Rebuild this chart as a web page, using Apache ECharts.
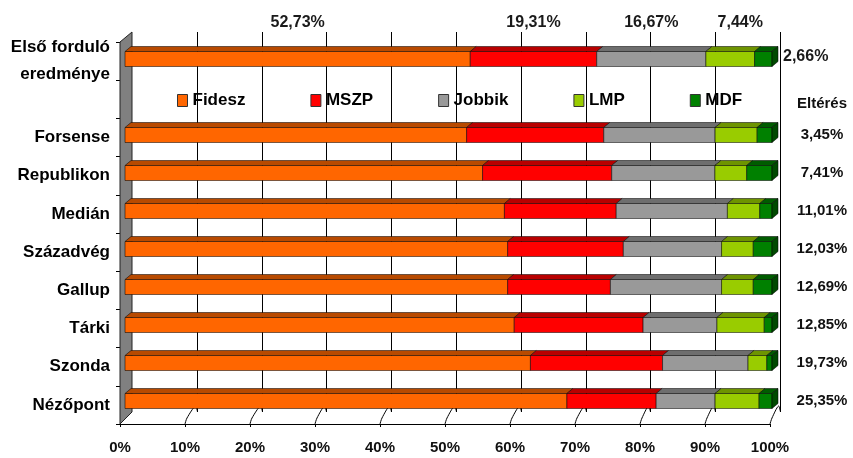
<!DOCTYPE html>
<html>
<head>
<meta charset="utf-8">
<script src="https://cdn.jsdelivr.net/npm/echarts@6/dist/echarts.min.js"></script>
<style>
  html, body { margin: 0; padding: 0; background: #fff; }
  #chart { width: 853px; height: 458px; }
</style>
</head>
<body>
<div id="chart"></div>
<script>
// sorok fentről lefelé (az első a tényleges eredmény)
const rows = ['Első forduló\neredménye', 'Forsense', 'Republikon', 'Medián', 'Századvég', 'Gallup', 'Tárki', 'Szonda', 'Nézőpont']
const parties = ['Fidesz', 'MSZP', 'Jobbik', 'LMP', 'MDF']
const fidesz = [52.73, 52.8, 55.1, 58.7, 59.2, 59.2, 60.1, 62.6, 68.3]
const mszp = [19.31, 21.2, 19.9, 17.3, 17.9, 15.9, 19.9, 20.4, 13.8]
const jobbik = [16.67, 17.2, 15.9, 17.2, 15.2, 17.2, 11.4, 13.2, 9.1]
const lmp = [7.44, 6.5, 4.9, 5.0, 4.9, 4.9, 7.3, 2.9, 6.8]
const mdf = [2.66, 2.3, 3.9, 1.9, 2.9, 2.9, 1.2, 0.8, 2.0]
const elteres = ['', '3,45%', '7,41%', '11,01%', '12,03%', '12,69%', '12,85%', '19,73%', '25,35%']
const xTicks = [0, 10, 20, 30, 40, 50, 60, 70, 80, 90, 100]

const values = [fidesz, mszp, jobbik, lmp, mdf]
const frontColors = ['#FF6600', '#FF0000', '#999999', '#99CC00', '#008000']
const topColors = ['#B84A00', '#B80000', '#6E6E6E', '#6E9400', '#005C00']
const sideColor = '#004A00'
const FONT = "'Liberation Sans', Arial, sans-serif"

// a jelmagyarázat egy üres sort foglal el az első sor alatt
const yCats = [rows[0], ''].concat(rows.slice(1))
const rightCats = ['', 'Eltérés'].concat(elteres.slice(1))
const catOf = i => (i === 0 ? 0 : i + 1)

// 100%-ra normált kezdő/vég értékek
const sums = rows.map((r, i) => values.reduce((a, arr) => a + arr[i], 0))
const starts = rows.map(() => 0)
const seriesData = values.map(arr => arr.map((v, i) => {
  const s = starts[i]
  const e = s + v / sums[i] * 100
  starts[i] = e
  return [s, e, catOf(i), v, i]
}))

const FRONT = { left: 120, top: 42, width: 650, height: 382 }
const BACK = { left: 132, top: 32, width: 648, height: 380 }
const BARS = { left: 125, top: 40, width: 647, height: 380 }

const fmt = v => v.toFixed(2).replace('.', ',') + '%'

function makeRender (k) {
  return function (params, api) {
    const a = api.coord([api.value(0), api.value(2)])
    const b = api.coord([api.value(1), api.value(2)])
    const h = 15, dx = 6, dy = 5
    const y0 = a[1] - h / 2
    const stroke = 'rgba(0,0,0,0.75)'
    const children = [
      { type: 'polygon', shape: { points: [[a[0], y0], [a[0] + dx, y0 - dy], [b[0] + dx, y0 - dy], [b[0], y0]] },
        style: { fill: topColors[k], stroke: stroke, lineWidth: 0.7 } },
      { type: 'rect', shape: { x: a[0], y: y0, width: b[0] - a[0], height: h },
        style: { fill: frontColors[k], stroke: stroke, lineWidth: 0.7 } }
    ]
    if (k === parties.length - 1) {
      children.push({ type: 'polygon', shape: { points: [[b[0], y0], [b[0] + dx, y0 - dy], [b[0] + dx, y0 + h - dy], [b[0], y0 + h]] },
        style: { fill: sideColor, stroke: stroke, lineWidth: 0.7 } })
    }
    if (api.value(4) === 0) {
      const txt = fmt(api.value(3))
      const last = k === parties.length - 1
      children.push({ type: 'text', style: {
        text: txt,
        x: last ? b[0] + 11 : (a[0] + b[0]) / 2 + (k === 3 ? 10 : 0),
        y: last ? a[1] - 2 : a[1] - 36,
        align: last ? 'left' : 'center', verticalAlign: 'middle',
        font: 'bold 16px ' + FONT, fill: '#1a1a1a' } })
    }
    return { type: 'group', children: children }
  }
}

// hátsó fal rácsvonalai + padló ferde vonalai
function renderGrid (params, api) {
  const cs = params.coordSys
  const v = api.value(0)
  const bx = Math.round(api.coord([v, 0])[0]) + 0.5
  const fx = FRONT.left + v / 100 * FRONT.width
  const fb = FRONT.top + FRONT.height
  const bb = cs.y + cs.height
  return {
    type: 'group',
    children: [
      { type: 'line', shape: { x1: bx, y1: cs.y, x2: bx, y2: bb },
        style: { stroke: '#000', lineWidth: 1 } },
      { type: 'polyline', shape: { points: [[fx, fb], [fx + 2, fb - 6], [bx - 2, bb - 6], [bx, bb]], smooth: 0.3 },
        style: { stroke: '#000', lineWidth: 1, fill: null } }
    ]
  }
}

const chart = echarts.init(document.getElementById('chart'))
const option = {
  animation: false,
  textStyle: { fontFamily: FONT },
  legend: {
    data: parties.map(p => ({ name: p, icon: 'rect' })),
    left: 172, top: 87,
    itemWidth: 10, itemHeight: 12, itemGap: 65,
    itemStyle: { borderColor: '#333', borderWidth: 1 },
    textStyle: { fontFamily: FONT, fontWeight: 'bold', fontSize: 17, color: '#000' }
  },
  grid: [
    Object.assign({}, FRONT),
    Object.assign({}, BACK),
    Object.assign({}, BARS)
  ],
  xAxis: [
    { type: 'value', gridIndex: 0, min: 0, max: 100, interval: 10,
      axisLine: { show: true, lineStyle: { color: '#000' } },
      axisTick: { show: true, length: 3, lineStyle: { color: '#000' } },
      splitLine: { show: false },
      axisLabel: { formatter: '{value}%', margin: 16, fontFamily: FONT, fontWeight: 'bold', fontSize: 15, color: '#111' } },
    { type: 'value', gridIndex: 1, min: 0, max: 100, interval: 10, show: false },
    { type: 'value', gridIndex: 2, min: 0, max: 100, show: false }
  ],
  yAxis: [
    { type: 'category', gridIndex: 0, inverse: true, data: yCats,
      axisLine: { show: true, lineStyle: { color: '#000' } },
      axisTick: { show: true, inside: false, length: 4, lineStyle: { color: '#000' } },
      axisLabel: { margin: 10, fontFamily: FONT, fontWeight: 'bold', fontSize: 17, lineHeight: 27, color: '#000' } },
    { type: 'value', gridIndex: 1, min: 0, max: 1, show: false },
    { type: 'category', gridIndex: 2, inverse: true, data: yCats, show: false },
    { type: 'category', gridIndex: 2, inverse: true, data: rightCats, position: 'right',
      axisLine: { show: false }, axisTick: { show: false },
      axisLabel: {
        margin: 50, align: 'center', fontFamily: FONT, fontWeight: 'bold', fontSize: 15, color: '#111',
        formatter: v => (v === 'Eltérés' ? '{h|' + v + '}' : v),
        rich: { h: { fontFamily: FONT, fontWeight: 'bold', fontSize: 15, color: '#111', padding: [14, 0, 0, 0] } }
      } }
  ],
  series: [{
    type: 'custom',
    name: 'grid',
    xAxisIndex: 1,
    yAxisIndex: 1,
    clip: false,
    silent: true,
    z: 1,
    renderItem: renderGrid,
    data: xTicks.slice(1).map(v => [v])
  }].concat(parties.map((p, k) => ({
    name: p,
    type: 'custom',
    xAxisIndex: 2,
    yAxisIndex: 2,
    clip: false,
    z: 5,
    itemStyle: { color: frontColors[k] },
    encode: { x: [0, 1], y: 2 },
    renderItem: makeRender(k),
    data: seriesData[k]
  })))
}
chart.setOption(option)

// bal oldalfal
const fb = FRONT.top + FRONT.height
const bb = BACK.top + BACK.height
chart.setOption({ graphic: { elements: [{
  type: 'polygon', z: 3,
  shape: { points: [[FRONT.left, FRONT.top], [BACK.left, BACK.top], [BACK.left, bb], [FRONT.left, fb]] },
  style: { fill: '#808080', stroke: '#222', lineWidth: 1 }
}] } })
</script>
</body>
</html>
